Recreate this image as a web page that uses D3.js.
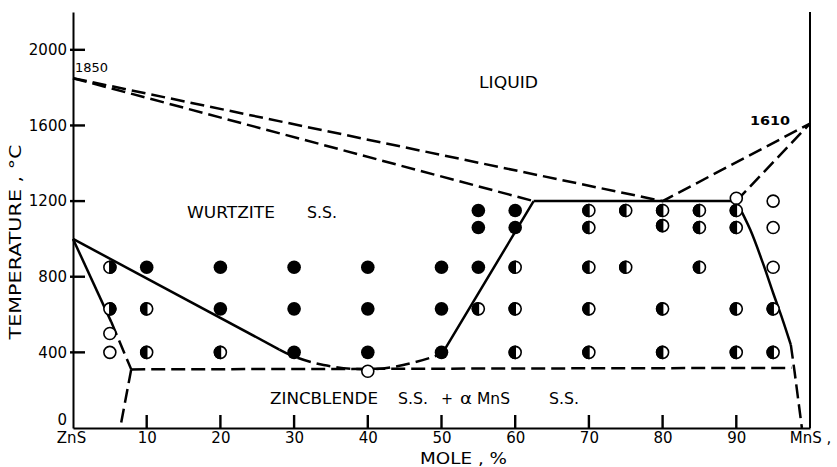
<!DOCTYPE html>
<html>
<head>
<meta charset="utf-8">
<script src="https://cdn.jsdelivr.net/npm/d3@7"></script>
<style>
  body { margin: 0; background: #fff; }
  text { font-family: "DejaVu Sans", sans-serif; fill: #000; }
</style>
</head>
<body>
<div id="chart-div"></div>
<script>
// axis ticks
var xTicks = [0, 10, 20, 30, 40, 50, 60, 70, 80, 90, 100];
var xTickNames = {0: "ZnS", 100: "MnS ,"};
var yTicks = [0, 400, 800, 1200, 1600, 2000];

// phase boundaries [mole %, temp C]
var liquidus = [[0, 1850], [80, 1200], [100, 1610]];
var wurtziteSolidus = [[0, 1850], [62.5, 1200]];
var mnsSolidus = [[90, 1200], [100, 1610]];
var wurtziteTop = [[62.5, 1200], [90, 1200]];
var wurtziteRight = [[50.2, 400], [60.2, 1050], [62.5, 1200]];
var mnsSolvus = [[90, 1200], [91.9, 1048], [93.6, 873], [95, 714], [96.3, 571], [97.4, 440]];
var mnsSolvusLow = [[97.4, 440], [97.9, 300], [98.9, 0]];
var zincLeftSolid = [[0, 1000], [5.2, 560]];
var zincLeftDash = [[5.2, 560], [7.9, 310]];
var zincLow = [[7.9, 310], [6.4, 0]];
var wurtziteLeft = [[0, 1000], [28, 415]];
var wurtziteDip = [[28, 415], [30, 378], [34, 333], [40, 310], [44.8, 333], [49.4, 384], [50.2, 400]];
var eutectoid = [[7.9, 310], [97.5, 318]];

// observations
var filledPts = [[10, 850], [20, 850], [20, 630], [30, 850], [30, 630], [30, 400],
  [40, 850], [40, 630], [40, 400], [50, 850], [50, 630], [50, 400],
  [55, 1150], [55, 1060], [55, 850], [60, 1150], [60, 1060]];
var halfPts = [[10, 630], [10, 400], [20, 400], [55, 630], [60, 850], [60, 630], [60, 400],
  [70, 1150], [70, 1060], [70, 850], [70, 630], [70, 400], [75, 1150], [75, 850],
  [80, 1150], [80, 1070], [80, 630], [80, 400], [85, 1150], [85, 1060], [85, 850],
  [90, 1150], [90, 1060], [90, 630], [90, 400], [95, 630], [95, 400]];
var halfRightPts = [[5, 850], [5, 630]];
var openPts = [[5, 500], [5, 400], [40, 300], [90, 1215], [95, 1200], [95, 1060], [95, 850]];

var width = 837, height = 467;

var svg = d3.select('#chart-div')
    .append('svg')
    .attr("width", width)
    .attr("height", height);

var x = d3.scaleLinear().domain([0, 100]).range([73, 810]);
var y = d3.scaleLinear().domain([0, 2200]).range([428, 12]);

var line = d3.line()
    .x(function(d) { return x(d[0]); })
    .y(function(d) { return y(d[1]); });
var smooth = d3.line()
    .curve(d3.curveCatmullRom)
    .x(function(d) { return x(d[0]); })
    .y(function(d) { return y(d[1]); });

// axes (labels + domain lines)
var yAxis = d3.axisLeft(y).tickValues(yTicks).tickSizeInner(0).tickSizeOuter(0).tickPadding(6)
    .tickFormat(d3.format("d"));
var xAxis = d3.axisBottom(x).tickValues(xTicks).tickSizeInner(0).tickSizeOuter(0).tickPadding(4)
    .tickFormat(function(d) { return xTickNames[d] || d; });

var gy = svg.append("g").attr("transform", "translate(" + x(0) + ",0)").call(yAxis);
var gx = svg.append("g").attr("transform", "translate(0," + y(0) + ")").call(xAxis);
[gx, gy].forEach(function(g) {
    g.selectAll("path").attr("stroke", "#000").attr("stroke-width", 2);
    g.selectAll("text").style("font-size", "15px").attr("fill", "#000");
});
gx.selectAll("text").attr("dy", "0.74em");
gx.selectAll(".tick").filter(function(d) { return d == 0; }).select("text").attr("x", -2);
gy.selectAll(".tick").filter(function(d) { return d == 0; }).select("text").attr("dy", "-0.25em");

// right frame
svg.append("line")
    .attr("x1", x(100)).attr("x2", x(100))
    .attr("y1", y(2200)).attr("y2", y(0))
    .attr("stroke", "#000").attr("stroke-width", 2);

// boundaries
var dashed = [liquidus, wurtziteSolidus, mnsSolidus, mnsSolvusLow, zincLeftDash, zincLow, eutectoid];
var solid = [wurtziteTop, wurtziteRight, zincLeftSolid, wurtziteLeft];

svg.selectAll(".dash")
    .data(dashed)
    .enter().append("path")
    .attr("d", line)
    .attr("fill", "none").attr("stroke", "#000").attr("stroke-width", 2.5)
    .attr("stroke-dasharray", "14,6");
svg.append("path").attr("d", smooth(wurtziteDip))
    .attr("fill", "none").attr("stroke", "#000").attr("stroke-width", 2.5)
    .attr("stroke-dasharray", "14,6");
svg.selectAll(".solid")
    .data(solid)
    .enter().append("path")
    .attr("d", line)
    .attr("fill", "none").attr("stroke", "#000").attr("stroke-width", 2.5);
svg.append("path").attr("d", smooth(mnsSolvus))
    .attr("fill", "none").attr("stroke", "#000").attr("stroke-width", 2.5);

// markers
var r = 6;
svg.selectAll(".open")
    .data(openPts)
    .enter().append("circle")
    .attr("cx", function(d) { return x(d[0]); })
    .attr("cy", function(d) { return y(d[1]); })
    .attr("r", r)
    .attr("fill", "#fff").attr("stroke", "#000").attr("stroke-width", 1.6);

svg.selectAll(".filled")
    .data(filledPts)
    .enter().append("circle")
    .attr("cx", function(d) { return x(d[0]); })
    .attr("cy", function(d) { return y(d[1]); })
    .attr("r", r + 0.8)
    .attr("fill", "#000");

function halfMarker(pts, side) {
    var g = svg.append("g");
    var m = g.selectAll("g").data(pts).enter().append("g")
        .attr("transform", function(d) { return "translate(" + x(d[0]) + "," + y(d[1]) + ")"; });
    m.append("circle").attr("r", r).attr("fill", "#fff").attr("stroke", "#000").attr("stroke-width", 1.6);
    m.append("path")
        .attr("d", "M0," + (-r) + " A" + r + "," + r + " 0 0 " + side + " 0," + r + " Z")
        .attr("fill", "#000").attr("stroke", "#000").attr("stroke-width", 1.6);
}
halfMarker(halfPts, 0);
halfMarker(halfRightPts, 1);

// tick marks as small filled bars, drawn last so nothing covers them
svg.append("g").selectAll("rect")
    .data(yTicks.filter(function(d) { return d > 0; }))
    .enter().append("rect")
    .attr("x", x(0) - 3)
    .attr("y", function(d) { return y(d) - 1.2; })
    .attr("width", 15)
    .attr("height", 2.4)
    .attr("fill", "#000");
svg.append("g").selectAll("rect")
    .data(xTicks.filter(function(d) { return d > 0 && d < 100; }))
    .enter().append("rect")
    .attr("x", function(d) { return x(d) - 1.2; })
    .attr("y", y(0) - 13)
    .attr("width", 2.4)
    .attr("height", 13)
    .attr("fill", "#000");

// labels
function label(txt, px, py, size, len, weight) {
    var t = svg.append("text")
        .attr("x", px).attr("y", py)
        .style("font-size", size + "px")
        .text(txt);
    if (len) t.attr("textLength", len).attr("lengthAdjust", "spacingAndGlyphs");
    if (weight) t.style("font-weight", weight);
    return t;
}
label("1850", 75, 72, 12, 33);
label("1610", 750, 125, 13, 40, "bold");
label("LIQUID", 479, 88, 15, 59);
label("WURTZITE", 187, 218, 15, 88);
label("S.S.", 307, 218, 15, 30);
label("ZINCBLENDE", 270, 404, 15, 108);
label("S.S.", 398, 404, 15, 30);
label("+", 441, 404, 15, 12);
label("\u03b1", 460, 404, 15, 12);
label("MnS", 477, 404, 15, 33);
label("S.S.", 549, 404, 15, 30);
label("MOLE , %", 420, 464, 15, 87);

svg.append("text")
    .attr("transform", "translate(21,242) rotate(-90)")
    .attr("text-anchor", "middle")
    .style("font-size", "15px")
    .attr("textLength", 195)
    .attr("lengthAdjust", "spacingAndGlyphs")
    .text("TEMPERATURE , \u00b0C");
</script>
</body>
</html>
